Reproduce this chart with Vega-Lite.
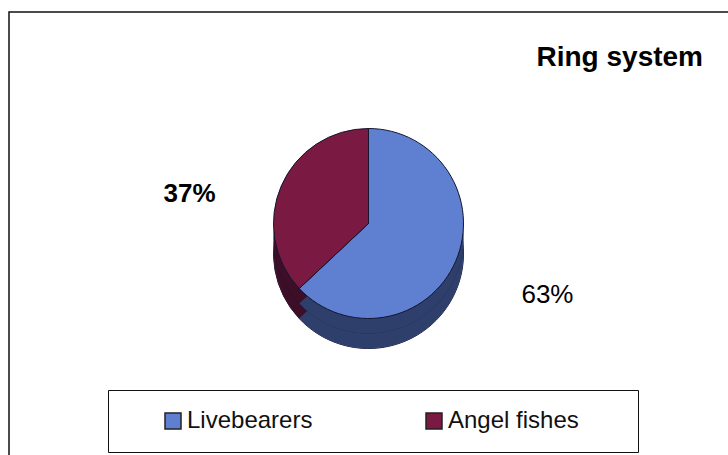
{
  "$schema": "https://vega.github.io/schema/vega-lite/v6.json",
  "width": 719,
  "height": 443,
  "autosize": {"type": "none"},
  "padding": {"left": 9, "top": 12, "right": 0, "bottom": 0},
  "background": "white",
  "config": {"view": {"stroke": null}, "font": "Liberation Sans"},
  "title": {"text": "Ring system", "anchor": "end", "frame": "group", "orient": "top", "offset": -83, "baseline": "alphabetic", "dx": -25, "fontSize": 28, "fontWeight": "bold", "font": "Liberation Sans", "color": "#000"},
  "data": {"values": [
    {"Fish": "Livebearers", "Share": 0.63},
    {"Fish": "Angel fishes", "Share": 0.37}
  ]},
  "layer": [
    {
      "transform": [{"aggregate": [{"op": "count", "as": "n"}]}],
      "mark": {"type": "rect", "fill": null, "stroke": "#111", "strokeWidth": 1.5, "strokeDash": [719, 1162, 443]},
      "encoding": {}
    },
    {
      "mark": {"type": "arc", "radius": 95, "yOffset": 20, "fill": "#050510", "stroke": "#151530", "strokeWidth": 1},
      "encoding": {
        "theta": {"field": "Share", "type": "quantitative", "stack": true, "scale": {"domain": [0, 1]}},
        "order": {"field": "Share", "sort": "descending"}
      }
    },
    {
      "mark": {"type": "arc", "radius": 95, "yOffset": 20, "opacity": 0.48},
      "encoding": {
        "theta": {"field": "Share", "type": "quantitative", "stack": true},
        "order": {"field": "Share", "sort": "descending"},
        "color": {"field": "Fish", "type": "nominal"}
      }
    },
    {
      "mark": {"type": "arc", "radius": 95, "yOffset": 5, "fill": "#050510"},
      "encoding": {
        "theta": {"field": "Share", "type": "quantitative", "stack": true},
        "order": {"field": "Share", "sort": "descending"}
      }
    },
    {
      "mark": {"type": "arc", "radius": 95, "yOffset": 5, "opacity": 0.48},
      "encoding": {
        "theta": {"field": "Share", "type": "quantitative", "stack": true},
        "order": {"field": "Share", "sort": "descending"},
        "color": {"field": "Fish", "type": "nominal"}
      }
    },
    {
      "mark": {"type": "arc", "radius": 95, "yOffset": -10, "stroke": "#151530", "strokeWidth": 1},
      "encoding": {
        "theta": {"field": "Share", "type": "quantitative", "stack": true},
        "order": {"field": "Share", "sort": "descending"},
        "color": {
          "field": "Fish", "type": "nominal",
          "scale": {"domain": ["Livebearers", "Angel fishes"], "range": ["#5f80d0", "#7a1a42"]},
          "legend": {
            "title": " ", "titleOrient": "right", "titlePadding": 40, "titleFontSize": 2,
            "orient": "none", "legendX": 99, "legendY": 378, "direction": "horizontal",
            "symbolType": "square", "symbolSize": 256, "symbolStrokeColor": "#222", "symbolStrokeWidth": 1.5,
            "labelFontSize": 24, "labelFont": "Liberation Sans", "labelColor": "#111", "labelOffset": 2,
            "columnPadding": 75, "padding": 19, "strokeColor": "#111", "fillColor": "white", "symbolOffset": 34,
            "encode": {"symbols": {"update": {"opacity": {"value": 1}, "fillOpacity": {"value": 1}}}}
          }
        }
      }
    },
    {
      "mark": {
        "type": "text", "radius": 195, "yOffset": -10, "fontSize": 26, "font": "Liberation Sans", "color": "#000",
        "fontWeight": {"expr": "datum.Fish === 'Angel fishes' ? 'bold' : 'normal'"},
        "dy": {"expr": "datum.Fish === 'Angel fishes' ? 48 : -6"}
      },
      "encoding": {
        "theta": {"field": "Share", "type": "quantitative", "stack": true},
        "order": {"field": "Share", "sort": "descending"},
        "text": {"field": "Share", "type": "quantitative", "format": ".0%"}
      }
    }
  ]
}
